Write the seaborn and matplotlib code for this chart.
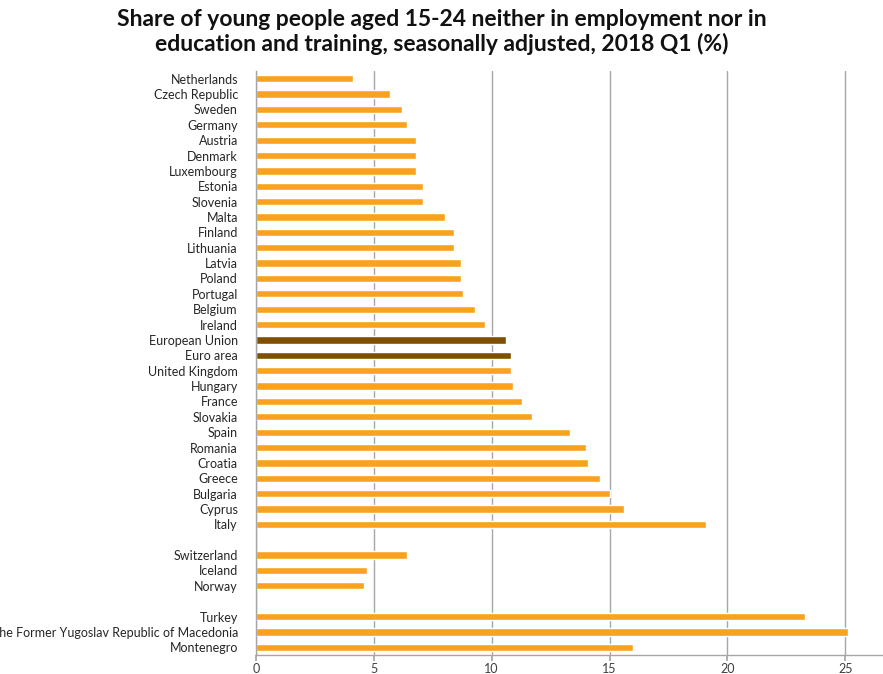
import pandas as pd
import matplotlib
matplotlib.use("Agg")
import matplotlib.pyplot as plt
import seaborn as sns

# ── data ─────────────────────────────────────────────────────────────────────
EU_COUNTRIES = ["Netherlands", "Czech Republic", "Sweden", "Germany", "Austria",
                "Denmark", "Luxembourg", "Estonia", "Slovenia", "Malta", "Finland",
                "Lithuania", "Latvia", "Poland", "Portugal", "Belgium", "Ireland",
                "European Union", "Euro area", "United Kingdom", "Hungary", "France",
                "Slovakia", "Spain", "Romania", "Croatia", "Greece", "Bulgaria",
                "Cyprus", "Italy"]
EU_VALUES = [4.1, 5.7, 6.2, 6.4, 6.8, 6.8, 6.8, 7.1, 7.1, 8.0, 8.4, 8.4, 8.7, 8.7,
             8.8, 9.3, 9.7, 10.6, 10.8, 10.8, 10.9, 11.3, 11.7, 13.3, 14.0, 14.1,
             14.6, 15.0, 15.6, 19.1]
EFTA_COUNTRIES = ["Switzerland", "Iceland", "Norway"]
EFTA_VALUES = [6.4, 4.7, 4.6]
CANDIDATE_COUNTRIES = ["Turkey", "The Former Yugoslav Republic of Macedonia", "Montenegro"]
CANDIDATE_VALUES = [23.3, 25.1, 16.0]
AGGREGATES = ["European Union", "Euro area"]

TITLE = ("Share of young people aged 15-24 neither in employment nor in\n"
         "education and training, seasonally adjusted, 2018 Q1 (%)")

ORANGE = "#F9A21F"
BROWN = "#7F5000"

df = pd.DataFrame({
    "country": EU_COUNTRIES + EFTA_COUNTRIES + CANDIDATE_COUNTRIES,
    "value": EU_VALUES + EFTA_VALUES + CANDIDATE_VALUES,
})
df["kind"] = ["aggregate" if c in AGGREGATES else "country" for c in df["country"]]

# blank slots separate the three groups
order = EU_COUNTRIES + [""] + EFTA_COUNTRIES + [" "] + CANDIDATE_COUNTRIES

# ── plot ─────────────────────────────────────────────────────────────────────
sns.set_theme(style="white")
plt.rcParams["font.family"] = ["Lato", "DejaVu Sans"]

fig = plt.figure(figsize=(8.83, 6.74), dpi=100)
ax = fig.add_axes([256 / 883, (674 - 655) / 674, 1 - 256 / 883, (655 - 71) / 674])

sns.barplot(data=df, y="country", x="value", hue="kind", order=order,
            palette={"country": ORANGE, "aggregate": BROWN},
            width=0.47, legend=False, ax=ax, saturation=1)

ax.set_xlim(0, 26.6)
ax.set_ylim(len(order) - 0.5, -0.5)
ax.set_xticks([0, 5, 10, 15, 20, 25])
ax.xaxis.grid(True, color="#A6A6A6", linewidth=1)
ax.set_axisbelow(True)
ax.set_xlabel("")
ax.set_ylabel("")

for side in ["top", "right"]:
    ax.spines[side].set_visible(False)
for side in ["left", "bottom"]:
    ax.spines[side].set_color("#A6A6A6")
    ax.spines[side].set_linewidth(1)

ax.tick_params(axis="x", bottom=True, length=4, color="#A6A6A6",
               labelsize=9, labelcolor="#404040", pad=2)
ax.tick_params(axis="y", left=False, length=0, labelsize=9,
               labelcolor="#262626", pad=13)

fig.text(0.5, 0.987, TITLE, ha="center", va="top", fontsize=16.5,
         fontweight="bold", color="#111111", linespacing=1.15)

plt.savefig("out.png", dpi=100)
plt.close()
